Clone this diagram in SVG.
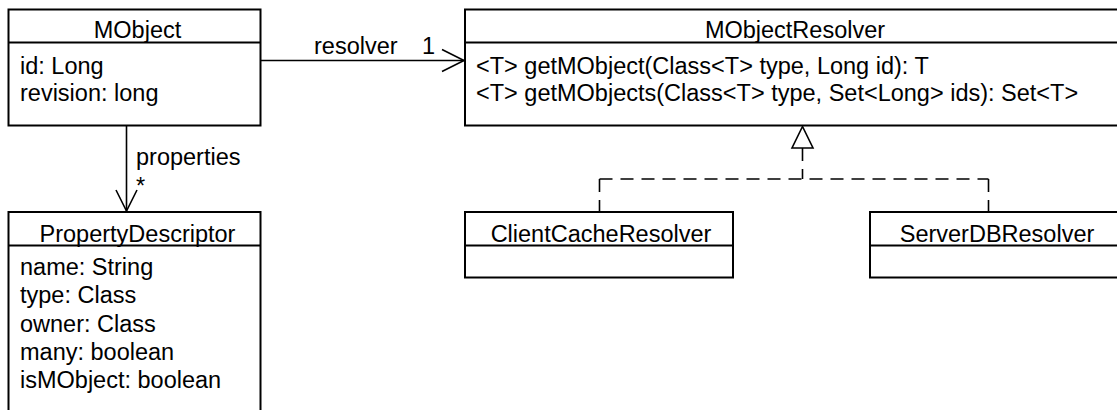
<svg xmlns="http://www.w3.org/2000/svg" width="1117" height="410" viewBox="0 0 1117 410">
<style>
  text { font-family: "Liberation Sans", Arial, sans-serif; font-size: 23.5px; fill: #000; }
  .box { fill: #fff; stroke: #000; stroke-width: 2; }
  .div { stroke: #000; stroke-width: 2; }
  .c { fill: none; stroke: #000; stroke-width: 1.6; }
  .dash { fill: none; stroke: #000; stroke-width: 1.6; stroke-dasharray: 13 8; }
  .mid { text-anchor: middle; }
</style>
<rect x="0" y="0" width="1117" height="410" fill="#fff"/>
<g id="MObject">
  <rect class="box" x="8.5" y="9.5" width="252" height="116"/>
  <line class="div" x1="8.5" y1="42.5" x2="260.5" y2="42.5"/>
  <text class="mid" x="137.5" y="37.5">MObject</text>
  <text x="20" y="74">id: Long</text>
  <text x="20" y="100.5">revision: long</text>
</g>
<g id="MObjectResolver">
  <rect class="box" x="465" y="9.5" width="680" height="116"/>
  <line class="div" x1="465" y1="42.5" x2="1145" y2="42.5"/>
  <text class="mid" x="795" y="37.5">MObjectResolver</text>
  <text x="476" y="74">&lt;T&gt; getMObject(Class&lt;T&gt; type, Long id): T</text>
  <text x="476" y="100.5">&lt;T&gt; getMObjects(Class&lt;T&gt; type, Set&lt;Long&gt; ids): Set&lt;T&gt;</text>
</g>
<g id="PropertyDescriptor">
  <rect class="box" x="8.5" y="212" width="252" height="220"/>
  <line class="div" x1="8.5" y1="245.5" x2="260.5" y2="245.5"/>
  <text class="mid" x="137.5" y="241.5">PropertyDescriptor</text>
  <text x="20" y="275">name: String</text>
  <text x="20" y="303.3">type: Class</text>
  <text x="20" y="331.6">owner: Class</text>
  <text x="20" y="360">many: boolean</text>
  <text x="20" y="388.3">isMObject: boolean</text>
</g>
<g id="ClientCacheResolver">
  <rect class="box" x="465" y="212" width="268" height="65.5"/>
  <line class="div" x1="465" y1="245.5" x2="733" y2="245.5"/>
  <text class="mid" x="601" y="241.5">ClientCacheResolver</text>
</g>
<g id="ServerDBResolver">
  <rect class="box" x="870" y="212" width="268" height="65.5"/>
  <line class="div" x1="870" y1="245.5" x2="1138" y2="245.5"/>
  <text class="mid" x="997" y="241.5">ServerDBResolver</text>
</g>
<g id="connectors">
  <line class="c" x1="260.5" y1="60.5" x2="464" y2="60.5"/>
  <polyline class="c" points="442,49.5 464,60.5 442,71.5"/>
  <text x="314" y="54">resolver</text>
  <text x="422" y="54">1</text>
  <line class="c" x1="126.5" y1="125.5" x2="126.5" y2="211"/>
  <polyline class="c" points="116,190 126.5,211 137,190"/>
  <text x="136" y="165">properties</text>
  <text x="136" y="194">*</text>
  <polygon class="c" points="802.5,126.5 792,148 813,148"/>
  <line class="dash" x1="802.5" y1="148" x2="802.5" y2="179"/>
  <line class="dash" x1="599.5" y1="179" x2="988.5" y2="179"/>
  <line class="dash" x1="599.5" y1="179" x2="599.5" y2="212"/>
  <line class="dash" x1="988.5" y1="179" x2="988.5" y2="212"/>
</g>
</svg>
